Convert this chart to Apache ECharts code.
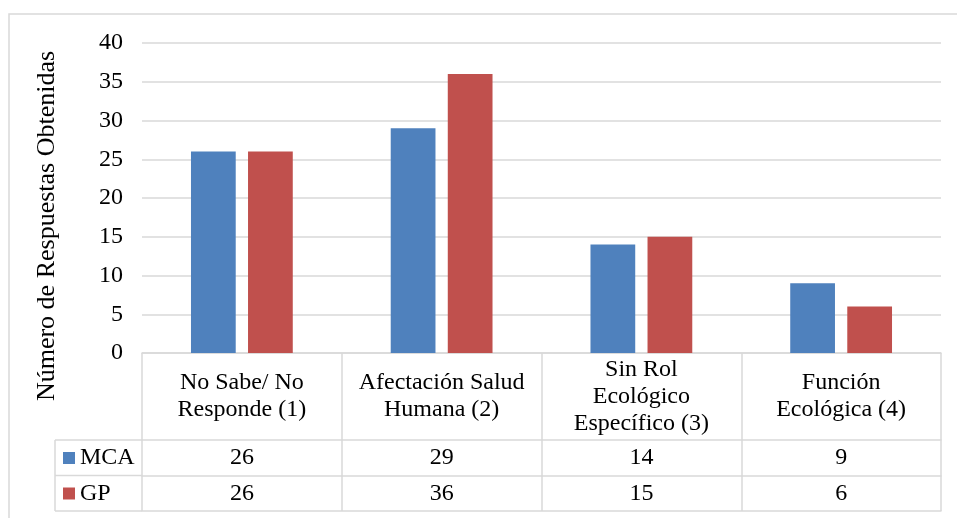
<!DOCTYPE html>
<html>
<head>
<meta charset="utf-8">
<style>
  html, body { margin: 0; padding: 0; background: #fff; }
  #chart { width: 957px; height: 518px; }
</style>
<script src="https://cdn.jsdelivr.net/npm/echarts@6/dist/echarts.min.js"></script>
</head>
<body>
<div id="chart"></div>
<script>
// Categories and response counts
const categories = [
  'No Sabe/ No\nResponde (1)',
  'Afectación Salud\nHumana (2)',
  'Sin Rol\nEcológico\nEspecífico (3)',
  'Función\nEcológica (4)'
];
const seriesNames = ['MCA', 'GP'];
const mcaValues = [26, 29, 14, 9];
const gpValues = [26, 36, 15, 6];
const yTicks = { min: 0, max: 40, interval: 5 };

// Layout of the plot area and the data table below it
const plotLeft = 142, plotRight = 941, plotTop = 43, axisY = 353;
const catRowH = 87, valRowH = 35.5;
const tableLeft = 55;
const serif = '"Liberation Serif", "Times New Roman", serif';
const lineColor = '#d9d9d9';

const chart = echarts.init(document.getElementById('chart'));

const row1Y = axisY + catRowH;
const row2Y = row1Y + valRowH;
const row3Y = row2Y + valRowH;

const tableLine = (x1, y1, x2, y2) => ({
  type: 'line',
  shape: { x1, y1, x2, y2 },
  style: { stroke: lineColor, lineWidth: 1.5 },
  silent: true
});

const valueRowAxis = (values, offset) => ({
  type: 'category',
  position: 'bottom',
  offset,
  data: values.map(String),
  axisLine: { show: true, lineStyle: { color: lineColor, width: 1.5 } },
  axisTick: { show: false },
  axisLabel: {
    interval: 0,
    margin: valRowH / 2,
    verticalAlign: 'middle',
    fontFamily: serif,
    fontSize: 24,
    color: '#000'
  }
});

chart.setOption({
  animation: false,
  color: ['#4f81bd', '#c0504d'],
  grid: {
    left: plotLeft,
    right: 957 - plotRight,
    top: plotTop,
    bottom: 518 - axisY,
    containLabel: false
  },
  legend: {
    data: seriesNames,
    orient: 'vertical',
    left: 63,
    top: row1Y + 6,
    padding: 0,
    itemWidth: 12,
    itemHeight: 12,
    itemGap: valRowH - 24,
    icon: 'rect',
    textStyle: { fontFamily: serif, fontSize: 24, color: '#000', lineHeight: 24 },
    selectedMode: false
  },
  xAxis: [
    {
      type: 'category',
      data: categories,
      axisLine: { show: true, lineStyle: { color: lineColor, width: 1.5 } },
      axisTick: {
        show: true,
        length: catRowH + 2 * valRowH,
        lineStyle: { color: lineColor, width: 1.5 }
      },
      axisLabel: {
        interval: 0,
        margin: catRowH / 2,
        verticalAlign: 'middle',
        fontFamily: serif,
        fontSize: 24,
        lineHeight: 27,
        color: '#000',
        align: 'center'
      }
    },
    valueRowAxis(mcaValues, catRowH),
    valueRowAxis(gpValues, catRowH + valRowH),
    {
      type: 'category',
      position: 'bottom',
      offset: catRowH + 2 * valRowH,
      data: categories,
      axisLine: { show: true, lineStyle: { color: lineColor, width: 1.5 } },
      axisTick: { show: false },
      axisLabel: { show: false }
    }
  ],
  yAxis: {
    type: 'value',
    min: yTicks.min,
    max: yTicks.max,
    interval: yTicks.interval,
    name: 'Número de Respuestas Obtenidas',
    nameLocation: 'middle',
    nameRotate: 90,
    nameGap: 82,
    nameTextStyle: {
      fontFamily: serif,
      fontSize: 26,
      color: '#000',
      padding: [0, 56, 0, 0]
    },
    axisLine: { show: false },
    axisTick: { show: false },
    axisLabel: { margin: 19, fontFamily: serif, fontSize: 24, color: '#000' },
    splitLine: { lineStyle: { color: lineColor, width: 1.5 } }
  },
  series: [
    {
      name: seriesNames[0],
      type: 'bar',
      data: mcaValues,
      barWidth: '22.4%',
      barGap: '27.5%'
    },
    {
      name: seriesNames[1],
      type: 'bar',
      data: gpValues,
      barWidth: '22.4%',
      barGap: '27.5%'
    }
  ],
  graphic: [
    // outer chart frame
    {
      type: 'rect',
      shape: { x: 9, y: 14, width: 960, height: 520 },
      style: { fill: 'none', stroke: '#d9d9d9', lineWidth: 1.5 },
      silent: true,
      z: -1
    },
    // series-name column of the data table
    tableLine(tableLeft, row1Y, plotLeft, row1Y),
    tableLine(tableLeft, row2Y, plotLeft, row2Y),
    tableLine(tableLeft, row3Y, plotLeft, row3Y),
    tableLine(tableLeft, row1Y, tableLeft, row3Y)
  ]
});
</script>
</body>
</html>
